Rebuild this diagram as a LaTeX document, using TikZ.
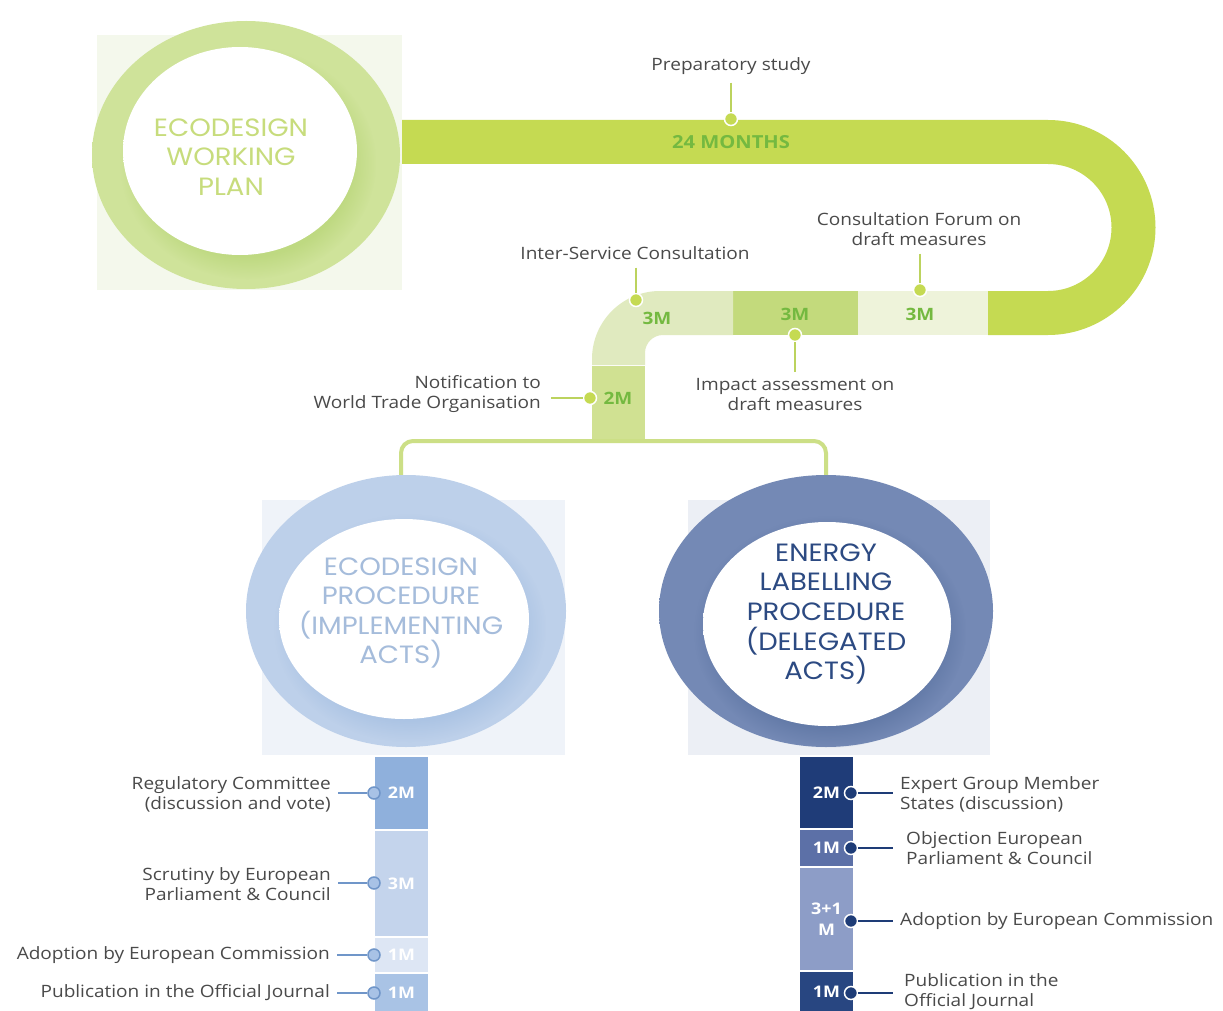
\documentclass[tikz,border=0pt]{standalone}
\usepackage{fontspec}
\setmainfont[FakeStretch=1.12]{Open Sans}
\newfontfamily\headfont[FakeStretch=1.1]{Poppins}
\usetikzlibrary{shapes.geometric,fadings}

% palette
\definecolor{bandgreen}{HTML}{C5DA52}
\definecolor{mgreen}{HTML}{74B940}
\definecolor{segforum}{HTML}{EEF3DA}
\definecolor{segimpact}{HTML}{C3DA7C}
\definecolor{seginter}{HTML}{E0EABF}
\definecolor{segwto}{HTML}{D0E192}
\definecolor{linegreen}{HTML}{BCD35E}
\definecolor{forkgreen}{HTML}{CCDF86}
\definecolor{labelgrey}{HTML}{4A4A4A}
\definecolor{sqgreen}{HTML}{F4F8EC}
\definecolor{sqblue}{HTML}{EFF3F9}
\definecolor{sqslate}{HTML}{ECEFF5}
\definecolor{rgA}{HTML}{CFE39A}
\definecolor{rgB}{HTML}{CFE39A}
\definecolor{rgC}{HTML}{E6F0CB}
\definecolor{rgS}{HTML}{B9D679}
\definecolor{igE}{HTML}{EEF4E0}
\definecolor{rbA}{HTML}{BDD0EA}
\definecolor{rbB}{HTML}{BDD0EA}
\definecolor{rbC}{HTML}{DAE4F2}
\definecolor{rbS}{HTML}{A6C0E2}
\definecolor{ibE}{HTML}{E6EDF7}
\definecolor{rsA}{HTML}{7489B5}
\definecolor{rsB}{HTML}{7489B5}
\definecolor{rsC}{HTML}{A3B1CD}
\definecolor{rsS}{HTML}{5C74A2}
\definecolor{isE}{HTML}{DDE4F0}
\definecolor{ttgreen}{HTML}{C7DC7C}
\definecolor{ttblue}{HTML}{A5BCDB}
\definecolor{ttnavy}{HTML}{2C4A82}
\definecolor{lb1}{HTML}{8FB0DC}
\definecolor{lb2}{HTML}{C4D4EC}
\definecolor{lb3}{HTML}{DDE6F4}
\definecolor{lb4}{HTML}{A9C3E5}
\definecolor{rb1}{HTML}{1F3C78}
\definecolor{rb2}{HTML}{5C70A7}
\definecolor{rb3}{HTML}{8D9DC7}
\definecolor{rb4}{HTML}{284681}
\definecolor{ldotfill}{HTML}{A8C2E6}
\definecolor{ldotline}{HTML}{7096C9}
\definecolor{rdotfill}{HTML}{1E3C77}

% ring and disc shadings
\pgfdeclareradialshading{ringgreen}{\pgfpointorigin}{color(0bp)=(rgA); color(38bp)=(rgA); color(40bp)=(rgB); color(50bp)=(rgC)}
\pgfdeclareradialshading{ringblue}{\pgfpointorigin}{color(0bp)=(rbA); color(38bp)=(rbA); color(40bp)=(rbB); color(50bp)=(rbC)}
\pgfdeclareradialshading{ringslate}{\pgfpointorigin}{color(0bp)=(rsA); color(38bp)=(rsA); color(40bp)=(rsB); color(50bp)=(rsC)}
\pgfdeclareradialshading{discgreen}{\pgfpointorigin}{color(0bp)=(white); color(32bp)=(white); color(50bp)=(igE)}
\pgfdeclareradialshading{discblue}{\pgfpointorigin}{color(0bp)=(white); color(32bp)=(white); color(50bp)=(ibE)}
\pgfdeclareradialshading{discslate}{\pgfpointorigin}{color(0bp)=(white); color(32bp)=(white); color(50bp)=(isE)}

\begin{document}
\begin{tikzpicture}[x=1pt,y=-1pt,
  lbl/.style={font=\fontsize{17}{20}\selectfont, text=labelgrey, inner sep=0pt, align=center},
  gdot/.style={circle, fill=bandgreen, draw=white, line width=1.5pt, minimum size=13pt, inner sep=0pt},
  gline/.style={draw=linegreen, line width=2pt},
  mlab/.style={font=\bfseries\fontsize{17}{20}\selectfont, text=mgreen, inner sep=0pt},
  titletext/.style={font=\headfont\fontsize{25}{29.6}\selectfont, align=center, inner sep=0pt},
  ring/.style={ellipse, inner sep=0pt, shade},
  softshadow/.style={fill opacity=0.75, path fading=circle with fuzzy edge 20 percent},
  bar/.style={rectangle, inner sep=0pt, minimum width=53pt, text=white, font=\bfseries\fontsize{16}{21}\selectfont, align=center},
  ldot/.style={circle, fill=ldotfill, draw=ldotline, line width=1.5pt, minimum size=12pt, inner sep=0pt},
  rdot/.style={circle, fill=rdotfill, draw=white, line width=1.5pt, minimum size=13pt, inner sep=0pt},
  lline/.style={draw=ldotline, line width=1.5pt},
  rline/.style={draw=rdotfill, line width=1.5pt},
  fork/.style={draw=forkgreen, line width=4pt, rounded corners=12pt},
]
\useasboundingbox (0,0) rectangle (1223,1011);
\fill[white] (0,0) rectangle (1223,1011);

% backdrop squares
\fill[sqgreen] (97,35) rectangle (402,290);
\fill[sqblue] (262,500) rectangle (565,755);
\fill[sqslate] (688,500) rectangle (990,755);

% main 24-month band with its U-turn
\fill[bandgreen] (402,120) -- (1048,120) arc[start angle=-90,end angle=90,radius=107.5]
  -- (988,335) -- (988,291) -- (1048,291) arc[start angle=90,end angle=-90,radius=63.5]
  -- (402,164) -- cycle;
% 3M + 3M + 3M + 2M segments
\fill[segforum] (858,291) rectangle (988,335);
\fill[segimpact] (733,291) rectangle (858,335);
\fill[seginter] (733,291) -- (660,291) arc[start angle=-90,end angle=-180,radius=68]
  -- (592,365) -- (645,365) -- (645,353) arc[start angle=180,end angle=270,radius=18]
  -- (733,335) -- cycle;
\fill[segwto] (592,366) rectangle (645,440);

% fork towards both procedures
\coordinate (forkmid) at (618,441);
\coordinate (edcin) at (401,480);
\coordinate (elpin) at (826,480);
\draw[fork] (edcin) |- (forkmid) -| (elpin);

% working plan disc
\node[ring, shading=ringgreen, minimum width=308pt, minimum height=268pt] (wpring) at (246,155) {};
\fill[rgS, softshadow] (248,163) ellipse[x radius=128, y radius=116];
\node[ring, shading=discgreen, minimum width=234pt, minimum height=208pt] (wpdisc) at (240,151) {};
\node[titletext, text=ttgreen] (wptext) at (231,157) {ECODESIGN\\WORKING\\PLAN};

% ecodesign procedure disc
\node[ring, shading=ringblue, minimum width=320pt, minimum height=272pt] (edcring) at (406,611) {};
\fill[rbS, softshadow] (410,628) ellipse[x radius=136, y radius=114];
\node[ring, shading=discblue, minimum width=250pt, minimum height=200pt] (edcdisc) at (404,619) {};
\node[titletext, text=ttblue] (edctext) at (401,613) {ECODESIGN\\PROCEDURE\\(IMPLEMENTING\\ACTS)};

% energy labelling disc
\node[ring, shading=ringslate, minimum width=334pt, minimum height=272pt] (elpring) at (826,611) {};
\fill[rsS, softshadow] (830,632) ellipse[x radius=136, y radius=116];
\node[ring, shading=discslate, minimum width=248pt, minimum height=204pt] (elpdisc) at (827,624) {};
\node[titletext, text=ttnavy] (elptext) at (826,614) {ENERGY\\LABELLING\\PROCEDURE\\(DELEGATED\\ACTS)};

% band labels
\node[mlab, font=\bfseries\fontsize{18}{20}\selectfont] (months) at (731,142) {24 MONTHS};
\node[mlab] (m3a) at (657,318) {3M};
\node[mlab] (m3b) at (795,314) {3M};
\node[mlab] (m3c) at (920,314) {3M};
\node[mlab] (m2) at (618,398) {2M};

% preparatory study
\node[lbl] (prep) at (731,66) {Preparatory study};
\node[gdot] (prepdot) at (731,119) {};
\draw[gline] (prep.south) ++(0,8) -- (prepdot);

% consultation forum
\node[lbl] (forum) at (919,229) {Consultation Forum on\\draft measures};
\node[gdot] (forumdot) at (920,290) {};
\draw[gline] (forumdot |- forum.south) ++(0,8) -- (forumdot);

% inter-service consultation
\node[lbl] (isc) at (635,253) {Inter-Service Consultation};
\node[gdot] (iscdot) at (636,300) {};
\draw[gline] (iscdot |- isc.south) ++(0,8) -- (iscdot);

% impact assessment
\node[gdot] (iadot) at (795,335) {};
\node[lbl] (ia) at (795,394.5) {Impact assessment on\\draft measures};
\draw[gline] (iadot) -- ([yshift=6pt]iadot |- ia.north);

% notification to WTO
\node[lbl, align=right, anchor=east] (wto) at (541,394.5) {Notification to\\World Trade Organisation};
\node[gdot] (wtodot) at (590,398) {};
\draw[gline] (wtodot) -- ([xshift=10pt]wto.east |- wtodot);

% implementing acts timeline
\node[bar, fill=lb1, minimum height=72pt] (L1) at (401.5,793) {2M};
\node[bar, fill=lb2, minimum height=105pt] (L2) at (401.5,883.5) {3M};
\node[bar, fill=lb3, minimum height=34pt] (L3) at (401.5,955) {1M};
\node[bar, fill=lb4, minimum height=38pt] (L4) at (401.5,993) {1M};

\node[lbl, align=right, anchor=east] (Lt1) at (331,794) {Regulatory Committee\\(discussion and vote)};
\node[lbl, align=right, anchor=east] (Lt2) at (331,884) {Scrutiny by European\\Parliament \& Council};
\node[lbl, align=right, anchor=east] (Lt3) at (330,955) {Adoption by European Commission};
\node[lbl, align=right, anchor=east] (Lt4) at (330,993) {Publication in the Official Journal};

\node[ldot] (Ld1) at (374,793) {};
\node[ldot] (Ld2) at (374,883) {};
\node[ldot] (Ld3) at (374,955) {};
\node[ldot] (Ld4) at (374,993) {};
\foreach \i in {1,...,4}{
  \draw[lline] ([xshift=7pt]Lt\i.east |- Ld\i) -- (Ld\i);
}

% delegated acts timeline
\node[bar, fill=rb1, minimum height=71pt] (R1) at (826.5,792.5) {2M};
\node[bar, fill=rb2, minimum height=36pt] (R2) at (826.5,848) {1M};
\node[bar, fill=rb3, minimum height=102pt] (R3) at (826.5,919) {3+1\\M};
\node[bar, fill=rb4, minimum height=39pt] (R4) at (826.5,991.5) {1M};

\node[lbl, align=left, anchor=west] (Rt1) at (900,794.5) {Expert Group Member\\States (discussion)};
\node[lbl, align=left, anchor=west] (Rt2) at (906,848.5) {Objection European\\Parliament \& Council};
\node[lbl, align=left, anchor=west] (Rt3) at (900,921) {Adoption by European Commission};
\node[lbl, align=left, anchor=west] (Rt4) at (904,991.5) {Publication in the\\Official Journal};

\node[rdot] (Rd1) at (851,793) {};
\node[rdot] (Rd2) at (851,848) {};
\node[rdot] (Rd3) at (851,921) {};
\node[rdot] (Rd4) at (851,993) {};
\draw[rline] (Rd1) -- (893,793);
\draw[rline] (Rd2) -- (893,848);
\draw[rline] (Rd3) -- (893,921);
\draw[rline] (Rd4) -- (893,993);
\end{tikzpicture}
\end{document}
